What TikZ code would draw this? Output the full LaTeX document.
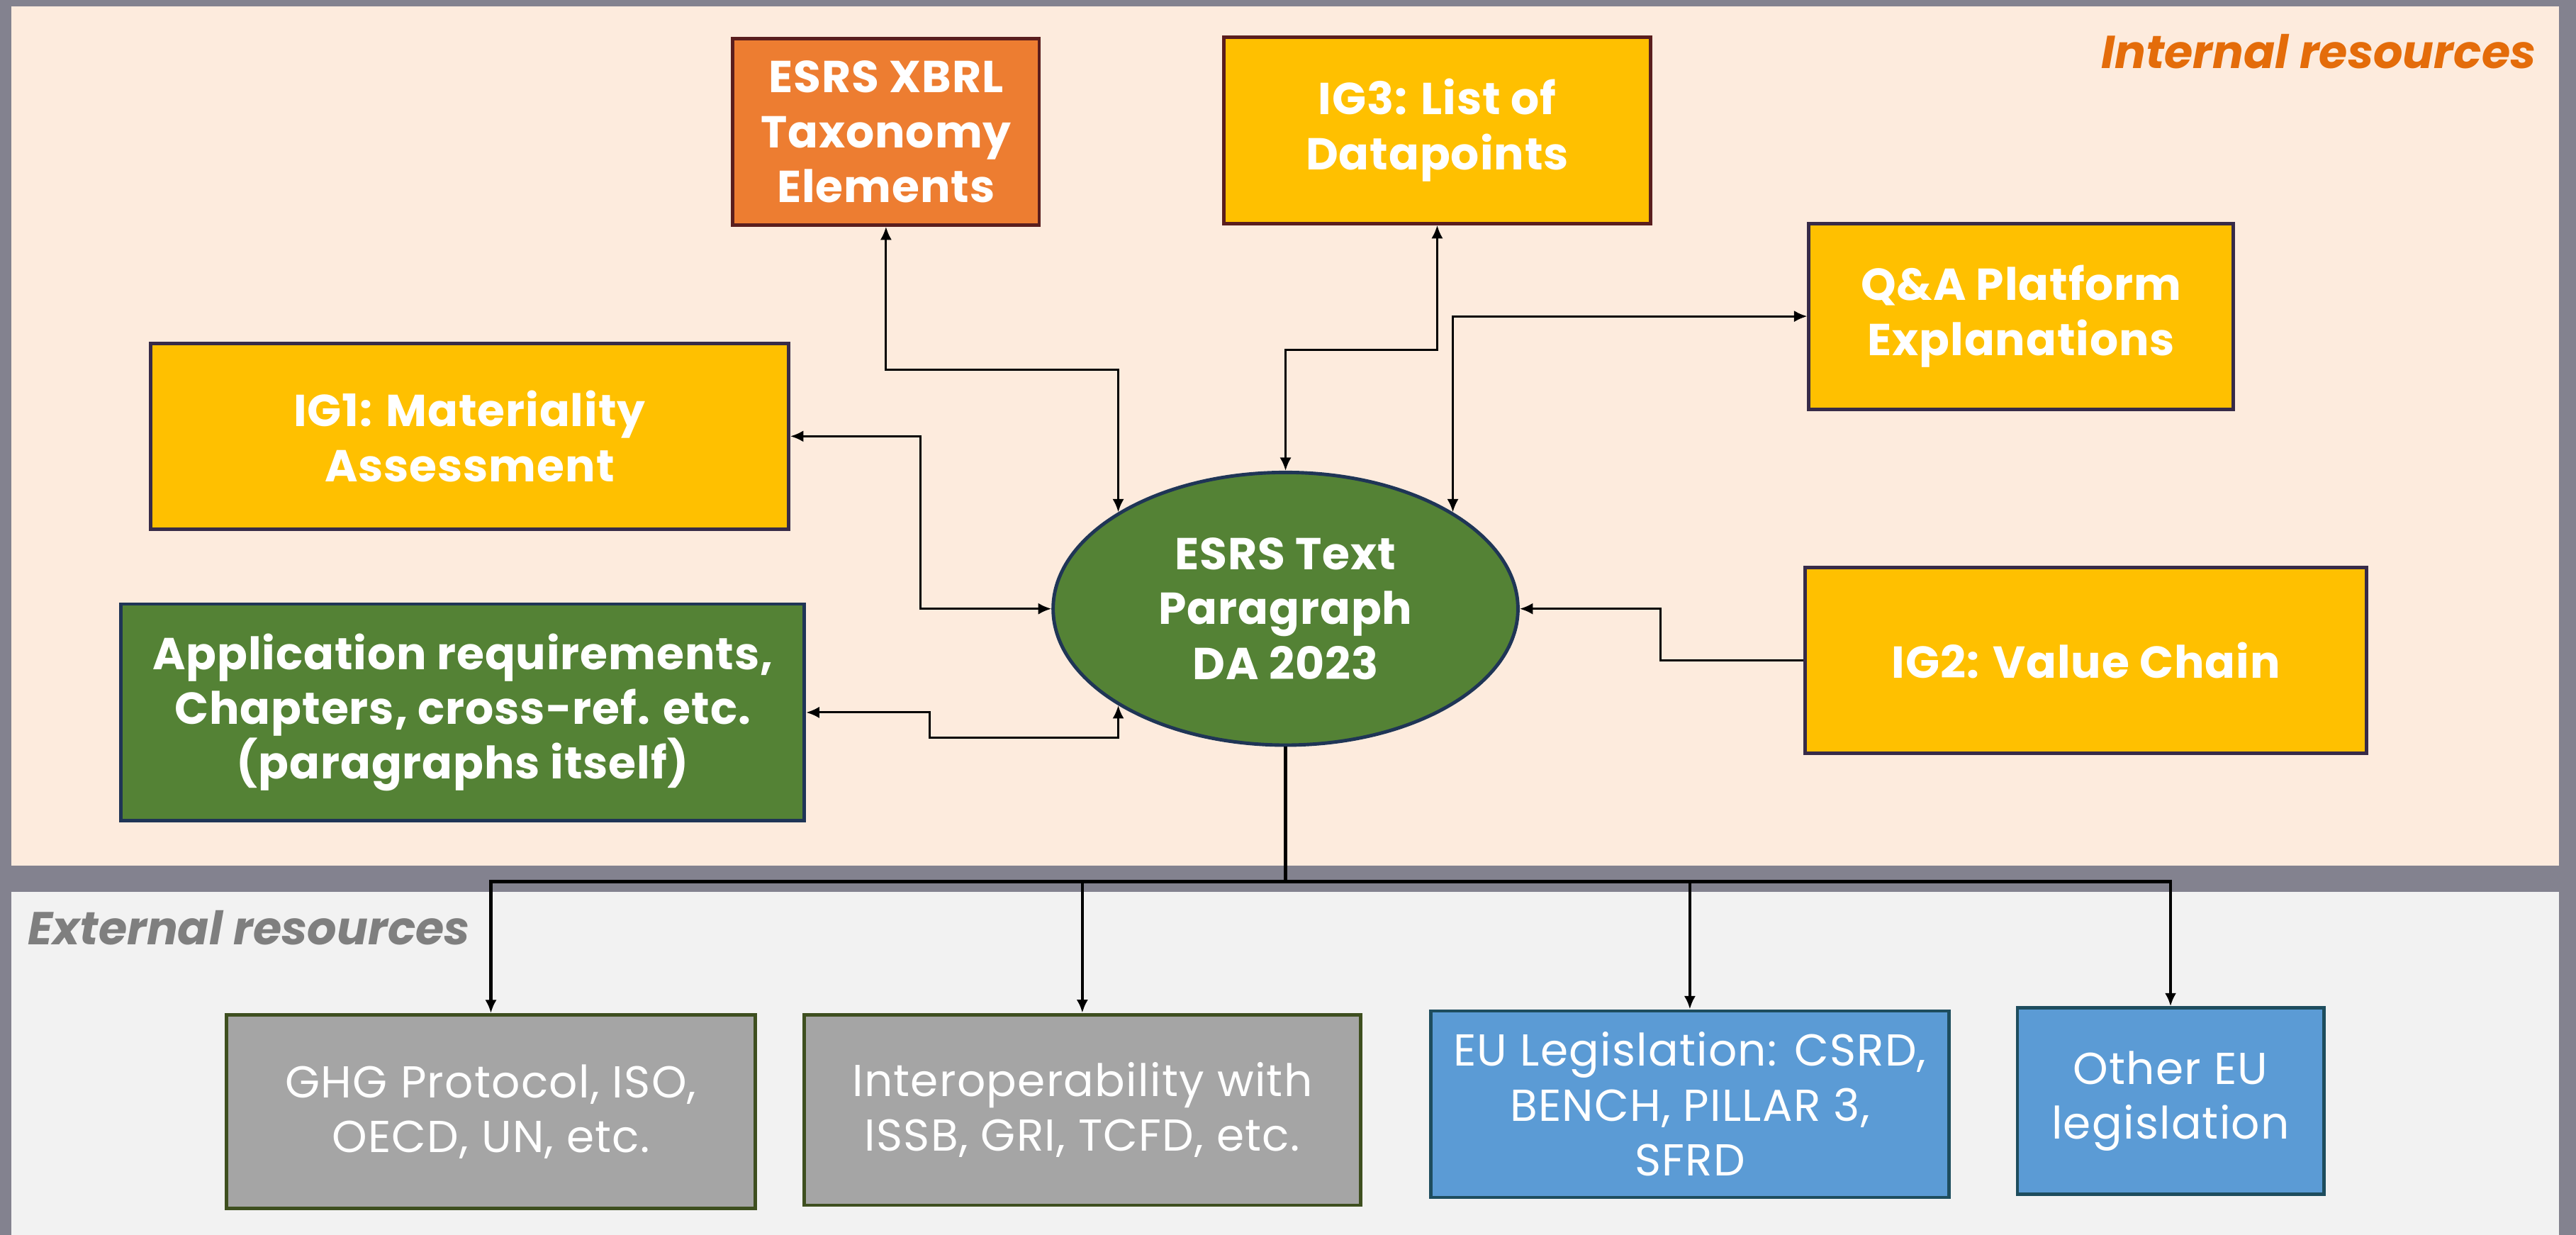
\documentclass[tikz,border=0pt]{standalone}
\usepackage{fontspec}
\setmainfont{Poppins}
\usetikzlibrary{shapes.geometric,arrows.meta}

\definecolor{outergrey}{HTML}{83828F}
\definecolor{peach}{HTML}{FDEBDD}
\definecolor{panelgrey}{HTML}{F2F2F2}
\definecolor{xbrlorange}{HTML}{ED7D31}
\definecolor{gold}{HTML}{FFC000}
\definecolor{esrsgreen}{HTML}{548235}
\definecolor{boxgrey}{HTML}{A5A5A5}
\definecolor{eublue}{HTML}{5B9BD5}
\definecolor{maroonline}{HTML}{5A1E1E}
\definecolor{plumline}{HTML}{372B48}
\definecolor{navyline}{HTML}{1F3556}
\definecolor{oliveline}{HTML}{3E4F1F}
\definecolor{tealline}{HTML}{1E4D5E}
\definecolor{intorange}{HTML}{E46C0A}
\definecolor{exttext}{HTML}{7F7F7F}

\tikzset{
  box/.style={draw, line width=1.2pt, text=white, align=center, inner sep=0pt},
  intbox/.style={box, font=\bfseries\fontsize{15.5}{19}\selectfont\addfontfeatures{LetterSpace=1.5}},
  extbox/.style={box, font=\fontsize{15.5}{19}\selectfont\addfontfeatures{LetterSpace=2}},
  panellabel/.style={inner sep=0pt, font=\bfseries\itshape\fontsize{16}{19}\selectfont},
  link/.style={line width=0.75pt},
  trunk/.style={line width=1.1pt},
  >={Latex[length=1.6mm,width=1.4mm]}
}

\begin{document}
\begin{tikzpicture}[x=0.02cm,y=-0.02cm]
% the two panels
\fill[outergrey] (0,0) rectangle (1568,751.6);
\fill[peach] (6.9,3.9) rectangle (1557.7,526.8);
\fill[panelgrey] (6.9,542.8) rectangle (1557.7,751.6);
\useasboundingbox (0,0) rectangle (1568,751.6);

\node[panellabel, text=intorange, anchor=base east] (intlabel) at (1544,41.6) {Internal resources};
\node[panellabel, text=exttext, anchor=base west] (extlabel) at (16.5,574.8) {External resources};

% internal resources
\node[intbox, fill=xbrlorange, draw=maroonline, minimum width=3.73cm, minimum height=2.27cm] (xbrl) at (539.3,80.2) {ESRS XBRL\\Taxonomy\\Elements};
\node[intbox, fill=gold, draw=maroonline, minimum width=5.19cm, minimum height=2.27cm] (ig3) at (874.8,79.3) {IG3: List of\\Datapoints};
\node[intbox, fill=gold, draw=plumline, minimum width=5.17cm, minimum height=2.26cm] (qa) at (1230.3,192.5) {Q\&A Platform\\Explanations};
\node[intbox, fill=gold, draw=plumline, minimum width=7.77cm, minimum height=2.26cm] (ig1) at (285.8,265.5) {IG1: Materiality\\Assessment};
\node[intbox, fill=esrsgreen, draw=navyline, minimum width=8.32cm, minimum height=2.64cm] (appreq) at (281.7,433.6) {Application requirements,\\Chapters, cross-ref. etc.\\(paragraphs itself)};
\node[intbox, fill=gold, draw=plumline, minimum width=6.84cm, minimum height=2.26cm] (ig2) at (1269.7,402) {IG2: Value Chain};
\node[intbox, ellipse, fill=esrsgreen, draw=navyline, minimum width=5.66cm, minimum height=3.32cm] (ell) at (782.5,370.5) {ESRS Text\\Paragraph\\DA 2023};

% external resources
\node[extbox, fill=boxgrey, draw=oliveline, minimum width=6.44cm, minimum height=2.36cm] (ghg) at (298.8,676.6) {GHG Protocol, ISO,\\OECD, UN, etc.};
\node[extbox, fill=boxgrey, draw=oliveline, minimum width=6.78cm, minimum height=2.32cm] (interop) at (658.8,675.5) {Interoperability with\\ISSB, GRI, TCFD, etc.};
\node[extbox, fill=eublue, draw=tealline, minimum width=6.31cm, minimum height=2.27cm] (eulegis) at (1028.6,672) {EU Legislation: CSRD,\\BENCH, PILLAR 3,\\SFRD};
\node[extbox, fill=eublue, draw=tealline, minimum width=3.73cm, minimum height=2.27cm] (othereu) at (1321.2,670.2) {Other EU\\legislation};

% links to the paragraph
\draw[link,<->] (xbrl.south) -- ++(0,87) -| (ell.150);
\draw[link,<->] (ig3.south) -- ++(0,76) -| (ell.north);
\draw[link,<->] (qa.west) -| (ell.30);
\draw[link,<->] (ig1.east) -- ++(79,0) |- (ell.west);
\draw[link,<->] (appreq.east) -- ++(75,0) -- ++(0,15.5) -| (ell.210);
\draw[link,->] (ig2.west) -- ++(-87,0) |- (ell.east);

\foreach \b in {ghg,interop,eulegis,othereu} \draw[trunk,->] (ell.south) -- ++(0,82) -| (\b.north);

\end{tikzpicture}
\end{document}
